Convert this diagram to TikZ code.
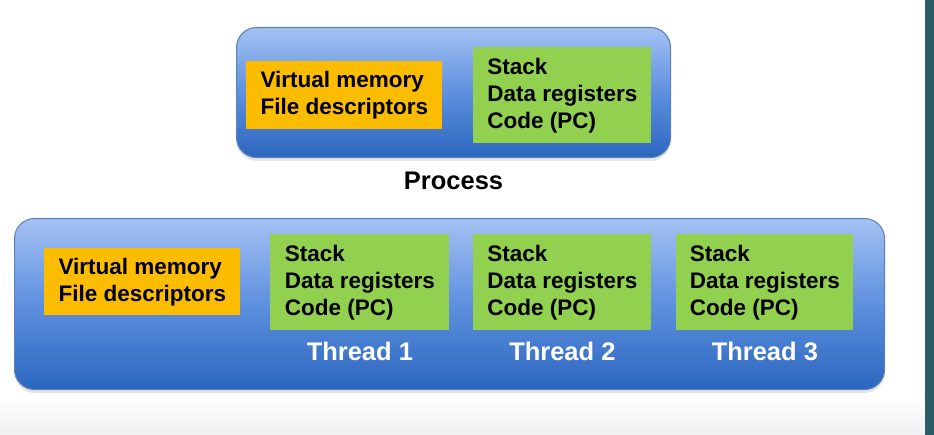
\documentclass[tikz,border=0pt]{standalone}
\usepackage{fontspec}
\setmainfont{Liberation Sans}
\usepackage{xcolor}
\usepackage{tikz}
\usetikzlibrary{positioning, shadows}

\definecolor{boxtop}{HTML}{A4C1F3}
\definecolor{boxmid}{HTML}{5E90DE}
\definecolor{boxbot}{HTML}{2A66BE}
\definecolor{boxrim}{HTML}{5F82B4}
\definecolor{vmorange}{HTML}{FCBD00}
\definecolor{thgreen}{HTML}{92D050}
\definecolor{edgeteal}{HTML}{2E5C66}

\begin{document}
\begin{tikzpicture}[font=\fontsize{12.8}{15.3}\selectfont\bfseries,
    proc/.style={draw=boxrim, line width=0.6pt, rounded corners=0.4cm, top color=boxtop, bottom color=boxbot, middle color=boxmid,
        drop shadow={opacity=0.2, shadow xshift=0pt, shadow yshift=-2pt}, anchor=north west, inner sep=0pt},
    shared/.style={fill=vmorange, anchor=north west, align=left, inner sep=0pt},
    own/.style={fill=thgreen, anchor=north west, align=left, inner sep=0pt, minimum width=3.56cm, minimum height=1.92cm},
    lbl/.style={font=\fontsize{14.5}{17}\selectfont\bfseries, inner sep=0pt, outer sep=0pt}]
\useasboundingbox (0,0) rectangle (18.68,8.7);
% Background
\fill[white] (0,0) rectangle (18.68,8.7);
\shade[top color=white, bottom color=gray!12] (0,0) rectangle (18.5,0.75);
\fill[edgeteal] (18.5,0) rectangle (18.68,8.7);
% Process
\node[proc, minimum width=8.68cm, minimum height=2.6cm] (proc) at (4.72, 8.16) {};
\node[shared, minimum width=3.92cm, minimum height=1.36cm] (pvm) at (4.92, 7.48) {Virtual memory\\File descriptors};
\node[own] (pth) at (9.46, 7.76) {Stack\\Data registers\\Code (PC)};
\node[lbl, below=0.27cm of proc] (plbl) {Process};
% Threads
\node[proc, minimum width=17.4cm, minimum height=3.42cm] (mt) at (0.28, 4.34) {};
\node[shared, minimum width=3.92cm, minimum height=1.34cm] (mvm) at (0.88, 3.74) {Virtual memory\\File descriptors};
\node[own, minimum width=3.58cm] (th1) at (5.40, 4.02) {Stack\\Data registers\\Code (PC)};
\node[own] (th2) at (9.46, 4.02) {Stack\\Data registers\\Code (PC)};
\node[own, minimum width=3.54cm] (th3) at (13.52, 4.02) {Stack\\Data registers\\Code (PC)};
\node[lbl, white, below=0.23cm of th1] (t1lbl) {Thread 1};
\node[lbl, white, below=0.23cm of th2] (t2lbl) {Thread 2};
\node[lbl, white, below=0.23cm of th3] (t3lbl) {Thread 3};
\end{tikzpicture}
\end{document}
